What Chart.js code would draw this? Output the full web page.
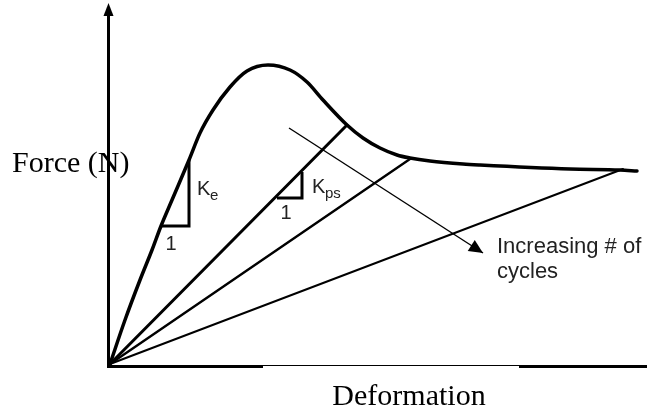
<!DOCTYPE html>
<html>
<head>
<meta charset="utf-8">
<script src="https://cdn.jsdelivr.net/npm/chart.js@4/dist/chart.umd.min.js"></script>
<style>
  html, body { margin: 0; padding: 0; background: #fff; }
  canvas { display: block; }
</style>
</head>
<body>
<canvas id="chart" width="647" height="414"></canvas>
<script>
// Monotonic envelope (backbone) curve: deformation vs force, arbitrary units
const envDeformation = [2, 17, 32, 44, 53, 64, 81, 92, 105, 122, 139, 160, 182, 199, 215, 239, 255, 272, 289, 302, 322, 355, 372, 462, 512, 529];
const envForce       = [2, 46, 86, 116, 140, 166, 206, 233, 256, 279, 295, 301, 296, 284, 266, 241, 228, 218, 211, 208, 205, 202, 201, 197, 196, 195];

// Secant (unloading) lines from the origin to points on the envelope
const secantStart = [2, 2];
const secantEndDeformation = [239, 302, 515];
const secantEndForce       = [241, 207, 197];

// Stiffness triangles: [run start, corner, rise end]
const keTriDeformation  = [53, 81, 81];
const keTriForce        = [140, 140, 206];
const kpsTriDeformation = [169, 194, 194];
const kpsTriForce       = [168, 168, 194];

// "Increasing # of cycles" arrow: tail and tip
const arrowDeformation = [181, 375];
const arrowForce       = [238, 113];

const pts = (xs, ys) => xs.map((x, i) => ({ x, y: ys[i] }));

const lineDs = (data, width, extra) => Object.assign({
  data,
  showLine: true,
  borderColor: '#000',
  backgroundColor: '#000',
  borderWidth: width,
  pointRadius: 0,
  fill: false,
  borderCapStyle: 'round',
  borderJoinStyle: 'miter'
}, extra || {});

const datasets = [
  lineDs(pts(envDeformation, envForce), 3.5, { cubicInterpolationMode: 'monotone' }),
  lineDs(pts([secantStart[0], secantEndDeformation[0]], [secantStart[1], secantEndForce[0]]), 3),
  lineDs(pts([secantStart[0], secantEndDeformation[1]], [secantStart[1], secantEndForce[1]]), 2.4),
  lineDs(pts([secantStart[0], secantEndDeformation[2]], [secantStart[1], secantEndForce[2]]), 2),
  lineDs(pts(keTriDeformation, keTriForce), 3, { borderCapStyle: 'butt' }),
  lineDs(pts(kpsTriDeformation, kpsTriForce), 3, { borderCapStyle: 'butt' }),
  lineDs(pts(arrowDeformation, arrowForce), 1.4, { borderCapStyle: 'butt' })
];
const ARROW_INDEX = datasets.length - 1;

// Axes, axis arrow, cycle arrowhead and text labels
const sketchDecor = {
  id: 'sketchDecor',
  beforeDatasetsDraw(chart) {
    const { ctx } = chart;
    const xs = chart.scales.x, ys = chart.scales.y;
    const x0 = xs.getPixelForValue(0) + 0.5;
    const y0 = ys.getPixelForValue(0);
    const yTop = ys.getPixelForValue(ys.max);
    const xRight = xs.getPixelForValue(xs.max);

    ctx.save();
    // Y-axis title (drawn first so the axis passes over it)
    ctx.fillStyle = '#000';
    ctx.font = '30px "Liberation Serif", "Times New Roman", serif';
    ctx.textBaseline = 'alphabetic';
    ctx.textAlign = 'left';
    ctx.fillText('Force (N)', 12, 172);

    ctx.strokeStyle = '#000';
    ctx.lineWidth = 3;
    ctx.lineCap = 'butt';
    // x axis
    ctx.beginPath();
    ctx.moveTo(x0 - 1.5, y0 + 0.5);
    ctx.lineTo(xRight, y0 + 0.5);
    ctx.stroke();
    // y axis
    ctx.beginPath();
    ctx.moveTo(x0, y0 + 2);
    ctx.lineTo(x0, yTop + 10);
    ctx.stroke();
    // y axis arrow head
    ctx.beginPath();
    ctx.moveTo(x0, yTop - 2);
    ctx.lineTo(x0 - 5, yTop + 11);
    ctx.lineTo(x0 + 5, yTop + 11);
    ctx.closePath();
    ctx.fill();

    // X-axis title box sits over part of the axis
    ctx.fillStyle = '#fff';
    ctx.fillRect(263, y0, 256, 46);
    ctx.fillStyle = '#000';
    ctx.font = '30px "Liberation Serif", "Times New Roman", serif';
    ctx.textAlign = 'center';
    ctx.fillText('Deformation', 409, 405);
    ctx.restore();
  },
  afterDatasetsDraw(chart) {
    const { ctx } = chart;
    ctx.save();

    // Arrowhead at the tip of the cycle arrow
    const pts = chart.getDatasetMeta(ARROW_INDEX).data;
    const a = pts[pts.length - 2], b = pts[pts.length - 1];
    const ang = Math.atan2(b.y - a.y, b.x - a.x);
    const len = 14, half = 6.5;
    ctx.translate(b.x, b.y);
    ctx.rotate(ang);
    ctx.fillStyle = '#000';
    ctx.beginPath();
    ctx.moveTo(0, 0);
    ctx.lineTo(-len, -half);
    ctx.lineTo(-len, half);
    ctx.closePath();
    ctx.fill();
    ctx.setTransform(1, 0, 0, 1, 0, 0);

    ctx.fillStyle = '#222';
    ctx.textBaseline = 'alphabetic';
    ctx.textAlign = 'left';
    const big = '20px "Liberation Sans", Arial, sans-serif';
    const sub = '15px "Liberation Sans", Arial, sans-serif';
    const lab = '22px "Liberation Sans", Arial, sans-serif';

    // Elastic stiffness label
    ctx.font = big; ctx.fillText('K', 197, 195);
    ctx.font = sub; ctx.fillText('e', 210, 200);
    ctx.font = big; ctx.textAlign = 'center'; ctx.fillText('1', 171, 250);

    // Post-peak secant stiffness label
    ctx.textAlign = 'left';
    ctx.font = big; ctx.fillText('K', 312, 193);
    ctx.font = sub; ctx.fillText('ps', 325, 198);
    ctx.font = big; ctx.textAlign = 'center'; ctx.fillText('1', 286, 219);

    ctx.textAlign = 'left';
    ctx.font = lab;
    ctx.fillText('Increasing # of', 497, 253);
    ctx.fillText('cycles', 497, 278);
    ctx.restore();
  }
};

new Chart(document.getElementById('chart'), {
  type: 'scatter',
  data: { datasets },
  options: {
    responsive: false,
    animation: false,
    devicePixelRatio: 1,
    layout: { padding: { left: 108, right: 0, top: 5, bottom: 48 } },
    plugins: { legend: { display: false }, tooltip: { enabled: false } },
    elements: { line: { tension: 0 } },
    scales: {
      x: { type: 'linear', min: 0, max: 539, display: false },
      y: { type: 'linear', min: 0, max: 361, display: false }
    }
  },
  plugins: [sketchDecor]
});
</script>
</body>
</html>
